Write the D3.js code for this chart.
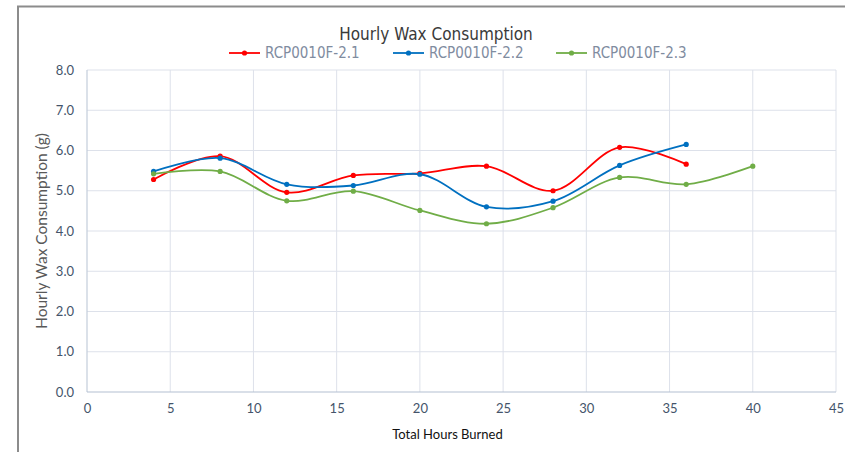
<!DOCTYPE html>
<html><head><meta charset="utf-8">
<script src="https://cdn.jsdelivr.net/npm/d3@7"></script>
<style>
html,body{margin:0;padding:0;background:#fff;}
svg{display:block;}
</style></head>
<body>
<svg id="chart" width="845" height="452"></svg>
<script>
const title = "Hourly Wax Consumption";
const xTitle = "Total Hours Burned";
const yTitle = "Hourly Wax Consumption (g)";
const xTicks = [0,5,10,15,20,25,30,35,40,45];
const yTicks = [0,1,2,3,4,5,6,7,8];
const seriesNames = ["RCP0010F-2.1","RCP0010F-2.2","RCP0010F-2.3"];
const seriesColors = ["#ff0000","#0070c0","#70ad47"];
const hours21 = [4,8,12,16,20,24,28,32,36];
const values21 = [5.28,5.86,4.96,5.38,5.43,5.61,5.00,6.08,5.66];
const hours22 = [4,8,12,16,20,24,28,32,36];
const values22 = [5.48,5.81,5.16,5.13,5.41,4.60,4.74,5.63,6.15];
const hours23 = [4,8,12,16,20,24,28,32,36,40];
const values23 = [5.42,5.48,4.75,4.99,4.51,4.18,4.58,5.33,5.16,5.61];

const series = [
  {name: seriesNames[0], color: seriesColors[0], pts: hours21.map((h,i)=>({x:h,y:values21[i]}))},
  {name: seriesNames[1], color: seriesColors[1], pts: hours22.map((h,i)=>({x:h,y:values22[i]}))},
  {name: seriesNames[2], color: seriesColors[2], pts: hours23.map((h,i)=>({x:h,y:values23[i]}))}
];

const svg = d3.select("#chart");
const L = 87, R = 836, T = 70, B = 392;
const x = d3.scaleLinear().domain([0,45]).range([L,R]);
const y = d3.scaleLinear().domain([0,8]).range([B,T]);

// outer frame
svg.append("path").attr("d","M18,845 L18,6.5 L845,6.5").attr("fill","none")
  .attr("stroke","#8c8c8c").attr("stroke-width",2);

// gridlines
const grid = svg.append("g");
grid.selectAll("line.h").data(yTicks.slice(1)).enter().append("line")
  .attr("x1",L).attr("x2",R).attr("y1",d=>y(d)).attr("y2",d=>y(d))
  .attr("stroke","#dde1ea").attr("stroke-width",1);
grid.selectAll("line.v").data(xTicks.slice(1)).enter().append("line")
  .attr("y1",T).attr("y2",B).attr("x1",d=>x(d)).attr("x2",d=>x(d))
  .attr("stroke","#dde1ea").attr("stroke-width",1);
svg.append("line").attr("x1",L).attr("x2",L).attr("y1",T).attr("y2",B)
  .attr("stroke","#c3cddb").attr("stroke-width",1.2);
svg.append("line").attr("x1",L).attr("x2",R).attr("y1",B).attr("y2",B)
  .attr("stroke","#b4c0d2").attr("stroke-width",1.2);

const tickFont = "Lato, 'Open Sans', sans-serif";
const yAxis = svg.append("g").attr("transform",`translate(${L},0)`)
  .call(d3.axisLeft(y).tickValues(yTicks).tickFormat(d3.format(".1f")).tickSize(0).tickPadding(13));
yAxis.select(".domain").remove();
yAxis.selectAll("text").attr("font-family",tickFont).attr("font-size",13).attr("fill","#44546a");

const xAxis = svg.append("g").attr("transform",`translate(0,${B})`)
  .call(d3.axisBottom(x).tickValues(xTicks).tickFormat(d3.format("d")).tickSize(0).tickPadding(12));
xAxis.select(".domain").remove();
xAxis.selectAll("text").attr("font-family",tickFont).attr("font-size",13).attr("fill","#44546a");

svg.append("text").attr("x",(L+R)/2 - 14).attr("y",439).attr("text-anchor","middle")
  .attr("font-family",tickFont).attr("font-size",13).attr("fill","#111").text(xTitle);
svg.append("text").attr("transform",`translate(47,${(T+B)/2}) rotate(-90)`)
  .attr("text-anchor","middle").attr("font-family",tickFont).attr("font-size",15.5)
  .attr("fill","#595959").text(yTitle);

svg.append("text").attr("x",436).attr("y",40).attr("text-anchor","middle")
  .attr("font-family","'Liberation Sans Narrow','DejaVu Sans Condensed',Roboto,sans-serif")
  .attr("font-size",17).attr("fill","#3a3a3a").text(title);

const line = d3.line().x(d=>x(d.x)).y(d=>y(d.y)).curve(d3.curveCatmullRom.alpha(0.5));
const sg = svg.append("g");
series.forEach(s=>{
  sg.append("path").datum(s.pts).attr("d",line).attr("fill","none")
    .attr("stroke",s.color).attr("stroke-width",1.8);
});
series.forEach(s=>{
  sg.selectAll(null).data(s.pts).enter().append("circle")
    .attr("cx",d=>x(d.x)).attr("cy",d=>y(d.y)).attr("r",2.6).attr("fill",s.color);
});

const legX = [229,393,556];
const leg = svg.append("g");
series.forEach((s,i)=>{
  const g = leg.append("g").attr("transform",`translate(${legX[i]},53)`);
  g.append("line").attr("x1",0).attr("x2",31).attr("y1",0).attr("y2",0)
    .attr("stroke",s.color).attr("stroke-width",1.8);
  g.append("circle").attr("cx",15.5).attr("cy",0).attr("r",2.6).attr("fill",s.color);
  g.append("text").attr("x",36).attr("y",5).attr("font-family","'Liberation Sans Narrow','DejaVu Sans Condensed',Roboto,sans-serif")
    .attr("font-size",15).attr("fill","#7f8c9f").text(s.name);
});
</script>
</body></html>
